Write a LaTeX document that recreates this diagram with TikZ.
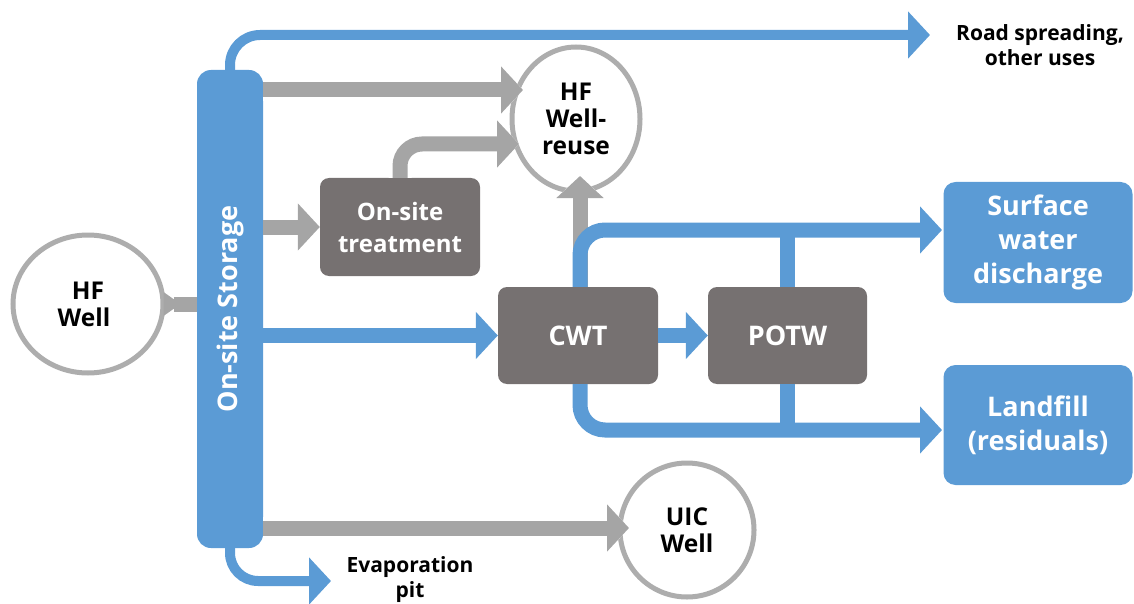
\documentclass[tikz,border=0pt]{standalone}
\usepackage{fontspec}
\setmainfont{Open Sans}
\usetikzlibrary{arrows.meta,shapes.geometric,calc}
\definecolor{bluec}{HTML}{5B9BD5}
\definecolor{grayc}{HTML}{A5A5A5}
\definecolor{ringc}{HTML}{ADADAD}
\definecolor{darkc}{HTML}{767171}
\begin{document}
\begin{tikzpicture}[x=1pt,y=-1pt,
  ring/.style={ellipse, draw=ringc, line width=5pt, fill=white, inner sep=0pt, align=center, font=\bfseries\fontsize{24.5}{27}\selectfont},
  darkbox/.style={rectangle, rounded corners=9pt, fill=darkc, text=white, align=center, inner sep=0pt, font=\bfseries\fontsize{24}{32}\selectfont},
  bluebox/.style={rectangle, rounded corners=12pt, fill=bluec, text=white, align=center, inner sep=0pt, font=\bfseries\fontsize{27}{34}\selectfont},
  txt/.style={align=center, font=\bfseries\fontsize{21}{25}\selectfont},
  grayA/.style={draw=grayc, line width=15pt, -{Triangle[length=22pt,width=46pt]}},
  blueA/.style={draw=bluec, line width=15pt, -{Triangle[length=22pt,width=46pt]}},
  blueL/.style={draw=bluec, line width=15pt},
  haloA/.style={draw=white, line width=23pt, -{Triangle[length=27pt,width=57pt]}},
]
\useasboundingbox (0,0) rectangle (1134,604);

% nodes
\node[ring, minimum width=150pt, minimum height=138pt] (hfwell) at (88,304) {HF\\Well\hspace*{8pt}};
\node[rectangle, rounded corners=14pt, fill=bluec, minimum width=66pt, minimum height=478pt, inner sep=0pt] (storage) at (230,309) {};
\node[rotate=90, text=white, font=\bfseries\fontsize{27}{30}\selectfont] (storagetxt) at (storage.center) {On-site Storage};
\node[ring, minimum width=128pt, minimum height=144pt] (reuse) at (576,119) {HF\\Well-\\reuse};
\node[darkbox, minimum width=160pt, minimum height=98pt] (treat) at (400,227) {On-site\\treatment};
\node[darkbox, minimum width=160pt, minimum height=97pt, font=\bfseries\fontsize{27}{32}\selectfont] (cwt) at (578,335.5) {CWT};
\node[darkbox, minimum width=159pt, minimum height=97pt, font=\bfseries\fontsize{27}{32}\selectfont] (potw) at (787.5,335.5) {POTW};
\node[bluebox, minimum width=189pt, minimum height=121pt] (surface) at (1038,242.5) {Surface\\water\\discharge};
\node[bluebox, minimum width=189pt, minimum height=120pt] (landfill) at (1038,425) {Landfill\\(residuals)};
\node[ring, minimum size=134pt] (uic) at (687,530) {UIC\\Well};
\node[txt] (road) at (1040,45) {Road spreading,\\other uses};
\node[txt] (evap) at (410,580) {Evaporation\\pit};

% free ends
\coordinate (roadtip) at (930,35);
\coordinate (evaptip) at (331,581);
\coordinate (r1) at (523,90);
\coordinate (r2) at (519,144);
\coordinate (r3) at (580,176);
\coordinate (stip) at (942,230);
\coordinate (ltip) at (942,430);
\coordinate (u1) at (629,528);

% HF Well -> storage
\draw[draw=grayc, line width=15pt] ([xshift=8pt]hfwell.east) -- (storage.west |- hfwell.east);
\fill[grayc] ([xshift=-2pt,yshift=12pt]hfwell.east) -- ([xshift=15pt]hfwell.east) -- ([xshift=-2pt,yshift=-12pt]hfwell.east) -- cycle;

% storage -> road spreading
\draw[blueA, line width=10pt, rounded corners=30pt] (storage.north) |- (roadtip);
% white halos where arrows enter the rings
\draw[haloA] (storage.east |- r1) -- (r1);
\draw[haloA, rounded corners=22pt] (treat.north) |- (r2);
\draw[haloA] ([yshift=-40pt]r3) -- (r3);
\draw[haloA] (storage.east |- u1) -- (u1);
% storage -> reuse
\draw[grayA] (storage.east |- r1) -- (r1);
% treatment -> reuse
\draw[grayA, rounded corners=22pt] (treat.north) |- (r2);
% storage -> treatment
\draw[grayA] (storage.east |- treat.west) -- (treat.west);
% storage -> CWT
\draw[blueA] (storage.east |- cwt.west) -- (cwt.west);
% CWT -> POTW
\draw[blueA] (cwt.east) -- (potw.west);
% CWT -> reuse
\draw[grayA] (cwt.north -| r3) -- (r3);
% CWT/POTW -> surface, landfill
\draw[blueA, rounded corners=25pt] (cwt.north -| r3) |- (stip);
\draw[blueA, rounded corners=25pt] (cwt.south -| r3) |- (ltip);
\draw[blueL] (potw.north) -- (potw.north |- stip);
\draw[blueL] (potw.south) -- (potw.south |- ltip);
% storage -> UIC
\draw[grayA] (storage.east |- u1) -- (u1);
% storage -> evaporation pit
\draw[blueA, line width=10pt, rounded corners=28pt] (storage.south) |- (evaptip);
\end{tikzpicture}
\end{document}
